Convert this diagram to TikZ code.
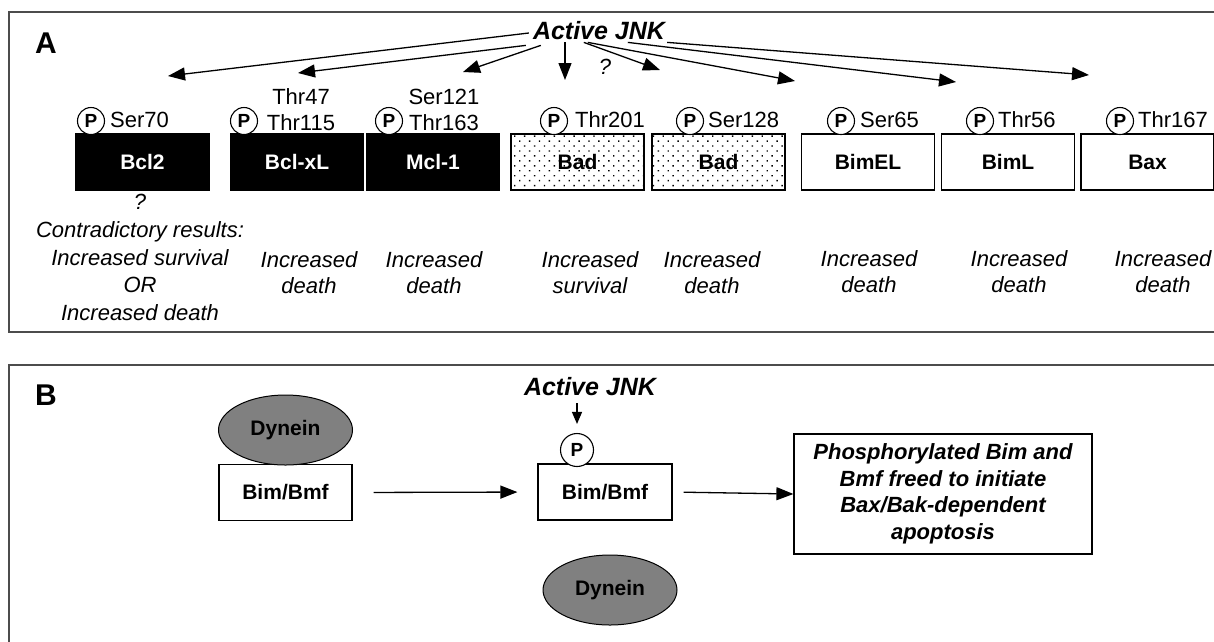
\documentclass[tikz,border=0pt]{standalone}
\usepackage{fontspec}
\setmainfont{Liberation Sans}
\usetikzlibrary{arrows.meta,calc,shapes.geometric,patterns.meta}

\tikzset{
  prot/.style={draw, line width=1.2pt, minimum width=133pt, minimum height=56pt, inner sep=0pt, font=\bfseries\fontsize{21}{25}\selectfont},
  prot negra/.style={prot, fill=black, text=white},
  prot puntos/.style={prot, pattern={Dots[distance=7pt, radius=1pt, angle=45]}},
  fosfo/.style={circle, draw, line width=1.1pt, fill=white, minimum size=27pt, inner sep=0pt, font=\bfseries\fontsize{19}{22}\selectfont},
  sitio/.style={inner sep=0pt, align=center, font=\fontsize{22}{26}\selectfont},
  efecto/.style={inner sep=0pt, align=center, font=\itshape\fontsize{22}{26}\selectfont},
  flecha/.style={line width=1.3pt, -{Triangle[length=17pt, width=13pt]}},
  dineina/.style={ellipse, draw, line width=1pt, fill=gray, minimum width=134pt, minimum height=70pt, inner sep=0pt, font=\bfseries\fontsize{21}{25}\selectfont},
  jnk/.style={inner sep=2pt, font=\bfseries\itshape\fontsize{25}{30}\selectfont},
  letra/.style={font=\bfseries\fontsize{30}{36}\selectfont},
  panel/.style={draw=black!70, line width=2pt}
}

\begin{document}
\begin{tikzpicture}[x=1pt, y=-1pt]
    \useasboundingbox (0,0) rectangle (1214,641);

    % Panel A
    \draw[panel] (9,12) rectangle (1222,332);
    \node[letra] (letraA) at (46,43) {A};
    \node[jnk] (jnkA) at (599,31) {Active JNK};

    \node[prot negra] (bcl) at (142.5,162) {Bcl2};
    \node[prot negra] (bclxl) at (297,162) {Bcl-xL};
    \node[prot negra] (mcl) at (433,162) {Mcl-1};
    \node[prot puntos] (bada) at (577.5,162) {Bad};
    \node[prot puntos] (badb) at (718.5,162) {Bad};
    \node[prot, fill=white] (bimel) at (868,162) {BimEL};
    \node[prot, fill=white] (biml) at (1008,162) {BimL};
    \node[prot, fill=white] (bax) at (1147.5,162) {Bax};

    % Fosforilaciones
    \node[fosfo] (pbcl) at (91,121) {P};
    \node[fosfo] (pbclxl) at (244,121) {P};
    \node[fosfo] (pmcl) at (389,121) {P};
    \node[fosfo] (pbada) at (554,121) {P};
    \node[fosfo] (pbadb) at (690,121) {P};
    \node[fosfo] (pbimel) at (841,121) {P};
    \node[fosfo] (pbiml) at (980,121) {P};
    \node[fosfo] (pbax) at (1120,121) {P};

    \node[sitio, anchor=west] (sbcl) at (110,120) {Ser70};
    \node[sitio] (sbclxl) at (301,110) {Thr47\\Thr115};
    \node[sitio] (smcl) at (444,110) {Ser121\\Thr163};
    \node[sitio, anchor=west] (sbada) at (575,120) {Thr201};
    \node[sitio, anchor=west] (sbadb) at (708,120) {Ser128};
    \node[sitio, anchor=west] (sbimel) at (860,120) {Ser65};
    \node[sitio, anchor=west] (sbiml) at (998,120) {Thr56};
    \node[sitio, anchor=west] (sbax) at (1138,120) {Thr167};

    % Flechas desde JNK
    \coordinate (tbcl) at (168,76);
    \coordinate (tbclxl) at (298,73);
    \coordinate (tmcl) at (463,72);
    \coordinate (tbada) at (565,80);
    \coordinate (tbadb) at (660,70);
    \coordinate (tbimel) at (795,81);
    \coordinate (tbiml) at (956,82);
    \coordinate (tbax) at (1089,75);

    \draw[flecha] ($(jnkA.west)+(-2,2)$) -- (tbcl);
    \draw[flecha] ($(jnkA.south west)+(-5,3)$) -- (tbclxl);
    \draw[flecha] ($(jnkA.south west)+(10,3)$) -- (tmcl);
    \draw[flecha] (tbada |- jnkA.south) -- (tbada);
    \draw[flecha] ($(jnkA.south west)+(53,0)$) -- (tbadb);
    \draw[flecha] ($(jnkA.south west)+(57,0)$) -- (tbimel);
    \draw[flecha] ($(jnkA.south west)+(97,0)$) -- (tbiml);
    \draw[flecha] (jnkA.south east) -- (tbax);
    \node[efecto] (duda) at (605,67) {?};

    % Efectos
    \node[efecto, font=\itshape\fontsize{22}{27.75}\selectfont] (ebcl) at (140,257.5) {?\\Contradictory results:\\Increased survival\\OR\\Increased death};
    \node[efecto] (ebclxl) at (309,273) {Increased\\death};
    \node[efecto] (emcl) at (434,273) {Increased\\death};
    \node[efecto] (ebada) at (590,273) {Increased\\survival};
    \node[efecto] (ebadb) at (712,273) {Increased\\death};
    \node[efecto] (ebimel) at (869,272) {Increased\\death};
    \node[efecto] (ebiml) at (1019,272) {Increased\\death};
    \node[efecto] (ebax) at (1163,272) {Increased\\death};

    % Panel B
    \draw[panel] (9,365) rectangle (1222,650);
    \node[letra] (letraB) at (46,395) {B};
    \node[jnk] (jnkB) at (590,387) {Active JNK};

    \node[prot, fill=white] (bima) at (285.5,492.5) {Bim/Bmf};
    \node[dineina] (dina) at (285.5,430) {Dynein};
    \node[prot, fill=white, minimum width=134pt] (bimb) at (605,492) {Bim/Bmf};
    \node[fosfo, minimum size=33pt] (pb) at (577,450) {P};
    \node[prot, fill=white, minimum width=298pt, minimum height=120pt, align=center, font=\bfseries\itshape\fontsize{22}{26.5}\selectfont] (libre) at (943,494) {Phosphorylated Bim and\\Bmf freed to initiate\\Bax/Bak-dependent\\apoptosis};
    \node[dineina] (dinb) at (610,590) {Dynein};

    \draw[flecha, shorten <=21pt, shorten >=20pt] (bima.east) -- (bimb.west);
    \draw[flecha, shorten <=11pt] (bimb.east) -- (libre.west);
    \draw[line width=1.2pt, -{Triangle[length=12pt, width=10pt]}, shorten <=5pt, shorten >=9pt] (pb |- jnkB.south) -- (pb.north);
\end{tikzpicture}
\end{document}
